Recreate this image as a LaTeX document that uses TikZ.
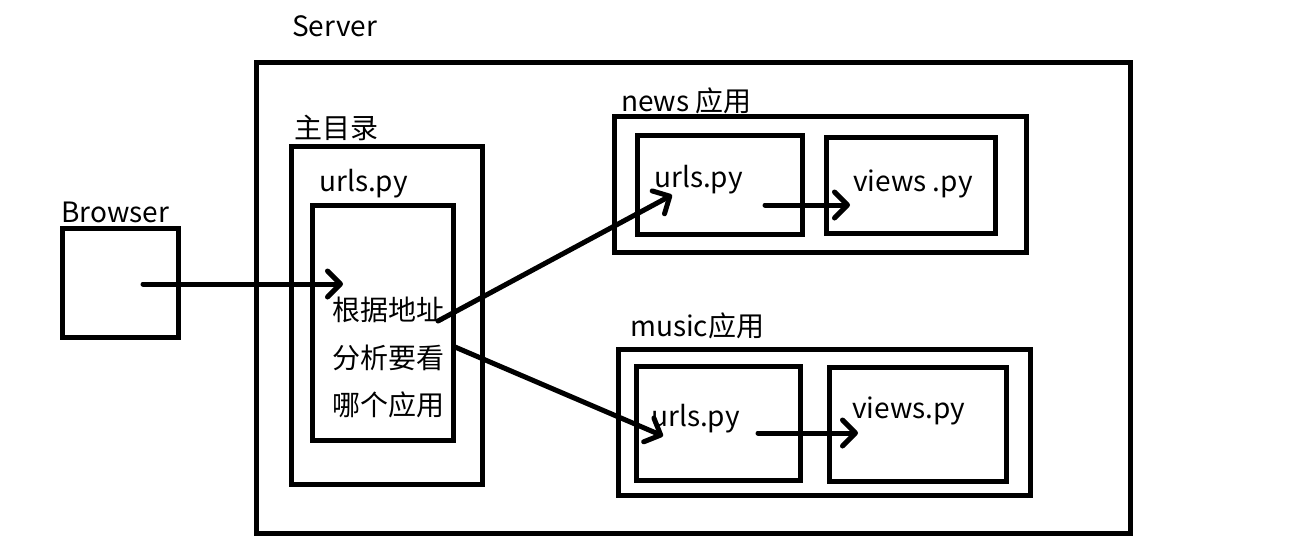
\documentclass[tikz,border=0pt]{standalone}
\usepackage{fontspec}
\setmainfont{Noto Sans CJK SC}
\usetikzlibrary{arrows.meta}
\tikzset{
  box/.style={draw, line width=5pt, inner sep=0pt, outer sep=0pt},
  lbl/.style={anchor=west, inner sep=0pt, font=\fontsize{28}{31}\selectfont},
  conn/.style={line width=5pt, line cap=round, -{Straight Barb[length=13pt,width=26pt,line cap=round,line join=round]}},
}
\begin{document}
\begin{tikzpicture}[x=1pt,y=-1pt]
\useasboundingbox (0,0) rectangle (1296,555);
% boxes
\node[box, minimum width=874pt, minimum height=471pt] (server) at (693,297.5) {};
\node[box, minimum width=191pt, minimum height=338pt] (main) at (386.5,315) {};
\node[box, minimum width=141pt, minimum height=235pt] (murls) at (382.5,322.5) {};
\node[box, minimum width=116pt, minimum height=109pt] (browser) at (120,282.5) {};
\node[box, minimum width=412pt, minimum height=136pt] (news) at (820,184) {};
\node[box, minimum width=165pt, minimum height=99pt] (nurls) at (719.5,184.5) {};
\node[box, minimum width=169pt, minimum height=96pt] (nviews) at (910.5,185) {};
\node[box, minimum width=412pt, minimum height=146pt] (music) at (824,422) {};
\node[box, minimum width=164pt, minimum height=114pt] (murls2) at (718,423) {};
\node[box, minimum width=177pt, minimum height=114pt] (mviews) at (917.5,424) {};
% labels
\node[lbl] (lserver) at (292,26) {Server};
\node[lbl] (lmain) at (294,128) {主目录};
\node[lbl] (lurls) at (319,184) {urls.py};
\node[lbl] (lbrowser) at (61,212) {Browser};
\node[lbl] (lnews) at (621,101) {news 应用};
\node[lbl] (lmusic) at (630,326) {music应用};
\node[lbl] (t1) at (332,310) {根据地址};
\node[lbl] (t2) at (332,358) {分析要看};
\node[lbl] (t3) at (332,405) {哪个应用};
\node[lbl] (tnurls) at (654,180) {urls.py};
\node[lbl] (tnviews) at (853,184) {views .py};
\node[lbl] (tmurls) at (651,419) {urls.py};
\node[lbl] (tmviews) at (852,411) {views.py};
% connector end points
\coordinate (b0) at (143,284);
\coordinate (b1) at (343,284);
\coordinate (a0) at (438,321);
\coordinate (a1) at (672,195);
\coordinate (c0) at (455,347);
\coordinate (c1) at (663,436);
\coordinate (n0) at (765,205);
\coordinate (n1) at (850,205);
\coordinate (m0) at (758,433);
\coordinate (m1) at (858,433);
% connectors
\draw[conn] (b0) -- (b1);
\draw[conn] (a0) -- (a1);
\draw[conn] (c0) -- (c1);
\draw[conn] (n0) -- (n1);
\draw[conn] (m0) -- (m1);
\end{tikzpicture}
\end{document}
